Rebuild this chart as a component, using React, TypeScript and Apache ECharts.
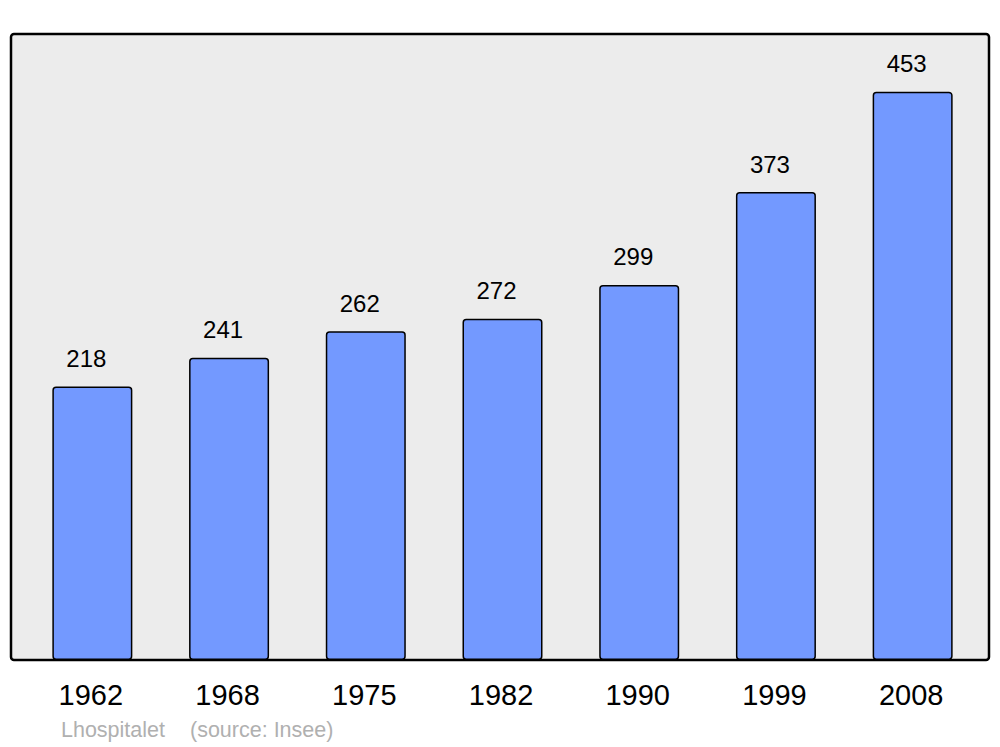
import React, { useEffect, useRef } from "react";
import * as echarts from "echarts";

const years = ["1962", "1968", "1975", "1982", "1990", "1999", "2008"];
const population = [218, 241, 262, 272, 299, 373, 453];
const footerName = "Lhospitalet";
const footerSource = "(source: Insee)";

export default function App() {
  const ref = useRef<HTMLDivElement>(null);
  useEffect(() => {
    if (!ref.current) return;
    const chart = echarts.init(ref.current, null, { renderer: "svg" });
    chart.setOption({
      animation: false,
      backgroundColor: "#ffffff",
      textStyle: { fontFamily: "Liberation Sans, Arial, sans-serif" },
      graphic: [
        {
          type: "rect",
          z: -10,
          silent: true,
          shape: { x: 11, y: 34, width: 978, height: 626, r: 3 },
          style: { fill: "#ececec", stroke: "#000000", lineWidth: 2.5 },
        },
        {
          type: "text",
          x: 61,
          y: 730,
          style: {
            text: footerName,
            fill: "#b0b0b0",
            fontSize: 21.5,
            fontFamily: "Liberation Sans, Arial, sans-serif",
            verticalAlign: "middle",
          },
        },
        {
          type: "text",
          x: 190,
          y: 730,
          style: {
            text: footerSource,
            fill: "#b0b0b0",
            fontSize: 21.5,
            fontFamily: "Liberation Sans, Arial, sans-serif",
            verticalAlign: "middle",
          },
        },
      ],
      grid: { left: 24, right: 19, top: 34, bottom: 87, containLabel: false },
      xAxis: {
        type: "category",
        data: years,
        axisLine: { show: false },
        axisTick: { show: false },
        axisLabel: {
          color: "#000000",
          fontSize: 29,
          margin: 20,
          padding: [0, 3, 0, 0],
          fontFamily: "Liberation Sans, Arial, sans-serif",
        },
      },
      yAxis: {
        type: "value",
        min: 0,
        max: 499,
        show: false,
        splitLine: { show: false },
      },
      series: [
        {
          type: "bar",
          data: population,
          barWidth: 80,
          itemStyle: {
            color: "#7399ff",
            borderColor: "#000000",
            borderWidth: 1.5,
            borderRadius: 3,
          },
          label: {
            show: true,
            position: "top",
            distance: 16,
            offset: [-6, 0],
            color: "#000000",
            fontSize: 24,
            fontFamily: "Liberation Sans, Arial, sans-serif",
          },
        },
      ],
    });
    return () => chart.dispose();
  }, []);
  return (
    <div
      ref={ref}
      style={{ position: "fixed", left: 0, top: 0, width: 1000, height: 747 }}
    />
  );
}
